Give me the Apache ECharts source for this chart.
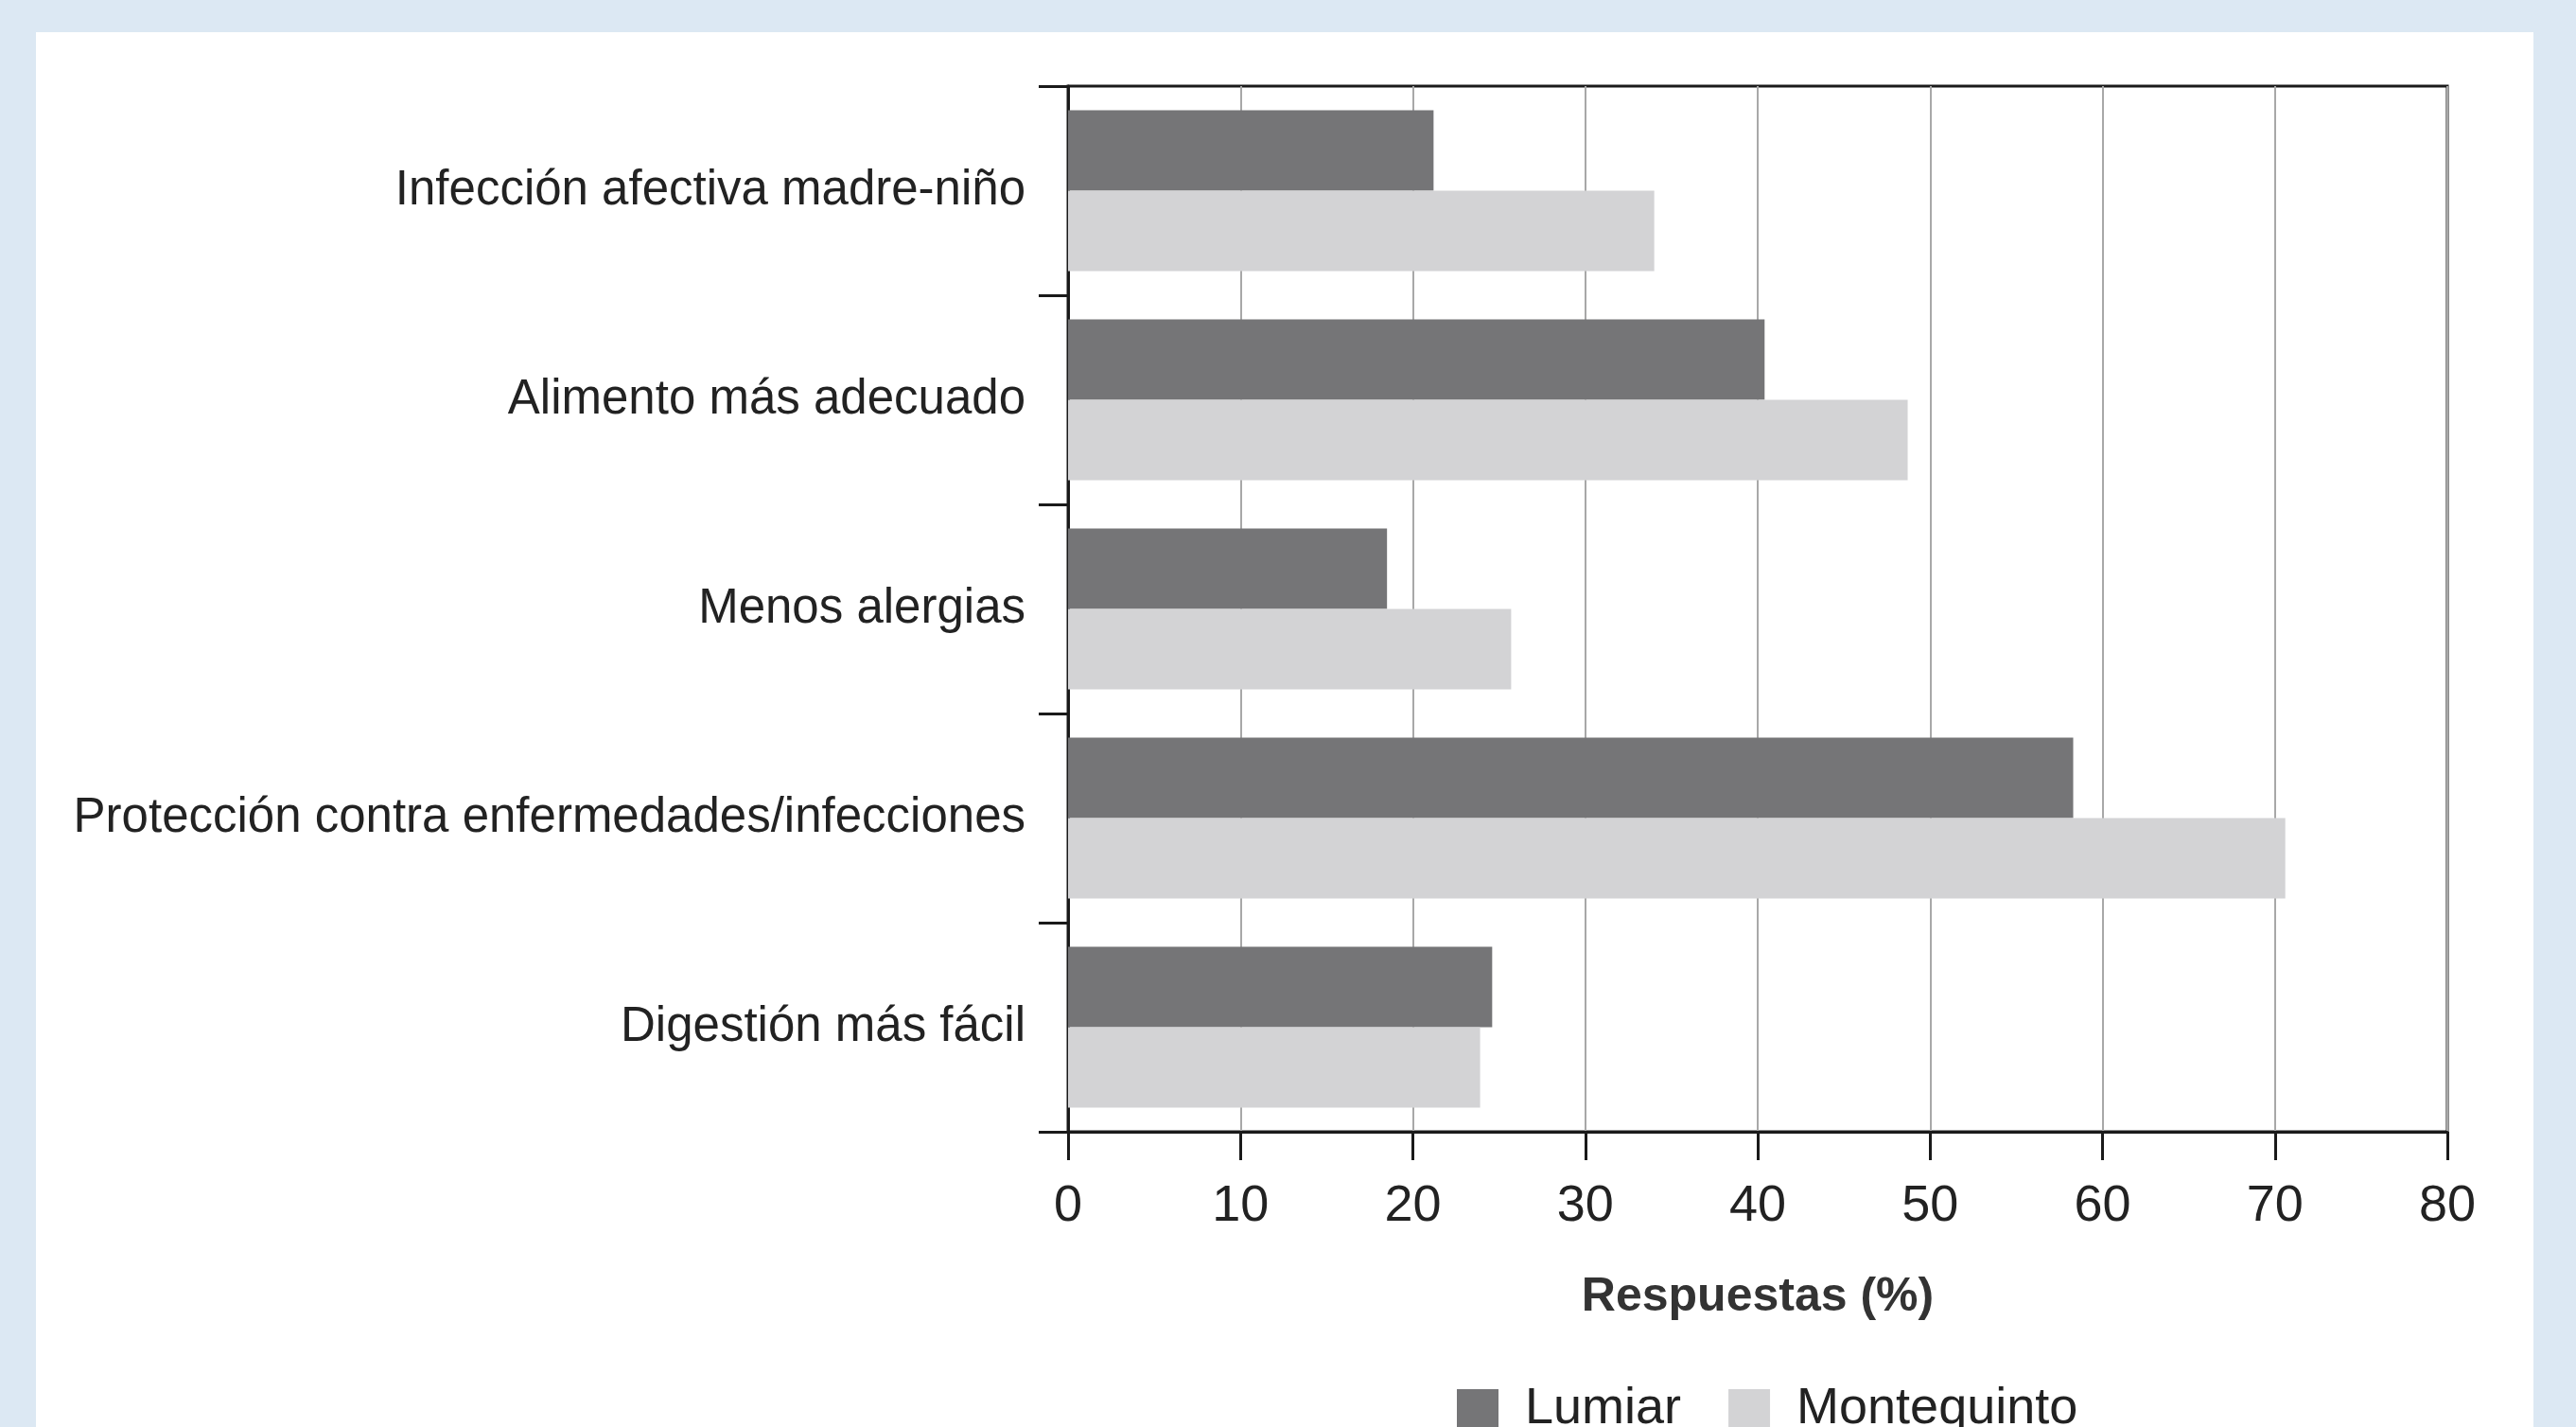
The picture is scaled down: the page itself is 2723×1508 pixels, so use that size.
<!DOCTYPE html>
<html>
<head>
<meta charset="utf-8">
<script src="https://cdn.jsdelivr.net/npm/echarts@6/dist/echarts.min.js"></script>
<style>
  html, body { margin: 0; padding: 0; background: #dce8f3; }
  #panel { position: absolute; left: 38px; top: 34px; width: 2640px; height: 1474px; background: #ffffff; }
  #chart { position: absolute; left: 0; top: 0; width: 2723px; height: 1508px; }
</style>
</head>
<body>
<div id="panel"></div>
<div id="chart"></div>
<script>
const categories = [
  'Infección afectiva madre-niño',
  'Alimento más adecuado',
  'Menos alergias',
  'Protección contra enfermedades/infecciones',
  'Digestión más fácil'
];
const seriesNames = ['Lumiar', 'Montequinto'];
const lumiar = [21.2, 40.4, 18.5, 58.3, 24.6];
const montequinto = [34.0, 48.7, 25.7, 70.6, 23.9];
const xTicks = [0, 10, 20, 30, 40, 50, 60, 70, 80];
const xAxisTitle = 'Respuestas (%)';

const FONT = '"Liberation Sans Narrow", "Liberation Sans", Arial, sans-serif';
const chart = echarts.init(document.getElementById('chart'), null, { renderer: 'canvas' });
chart.setOption({
  backgroundColor: 'transparent',
  animation: false,
  grid: {
    left: 1129, right: 136, top: 91, bottom: 1508 - 1196,
    containLabel: false, outerBoundsMode: 'none',
    show: true, borderColor: '#1a1a1a', borderWidth: 3, backgroundColor: 'transparent'
  },
  legend: {
    data: seriesNames,
    left: 1535, top: 1457,
    itemWidth: 44, itemHeight: 42, itemGap: 50,
    icon: 'rect',
    textStyle: { fontFamily: FONT, fontSize: 54, color: '#222', padding: [0, 0, 0, 23] }
  },
  xAxis: {
    type: 'value', min: xTicks[0], max: xTicks[xTicks.length - 1], interval: 10,
    axisLine: { show: true, lineStyle: { color: '#1a1a1a', width: 3 } },
    axisTick: { show: true, length: 30, lineStyle: { color: '#1a1a1a', width: 3 } },
    axisLabel: { fontFamily: FONT, fontSize: 54, color: '#222', margin: 52 },
    splitLine: { show: true, lineStyle: { color: '#a8a8a8', width: 2 } },
    name: xAxisTitle, nameLocation: 'middle', nameGap: 150,
    nameTextStyle: { fontFamily: FONT, fontSize: 50, fontWeight: 'bold', color: '#333' }
  },
  yAxis: {
    type: 'category', data: categories, inverse: true,
    axisLine: { show: true, lineStyle: { color: '#1a1a1a', width: 3 } },
    axisTick: { show: true, length: 31, lineStyle: { color: '#1a1a1a', width: 3 } },
    axisLabel: { fontFamily: FONT, fontSize: 51, color: '#222', margin: 45 },
    splitLine: { show: false }
  },
  series: [
    { name: seriesNames[0], type: 'bar', data: lumiar, barGap: '0%', barCategoryGap: '23%',
      itemStyle: { color: '#757577' } },
    { name: seriesNames[1], type: 'bar', data: montequinto, barGap: '0%', barCategoryGap: '23%',
      itemStyle: { color: '#d3d3d5' } }
  ]
});
</script>
</body>
</html>
